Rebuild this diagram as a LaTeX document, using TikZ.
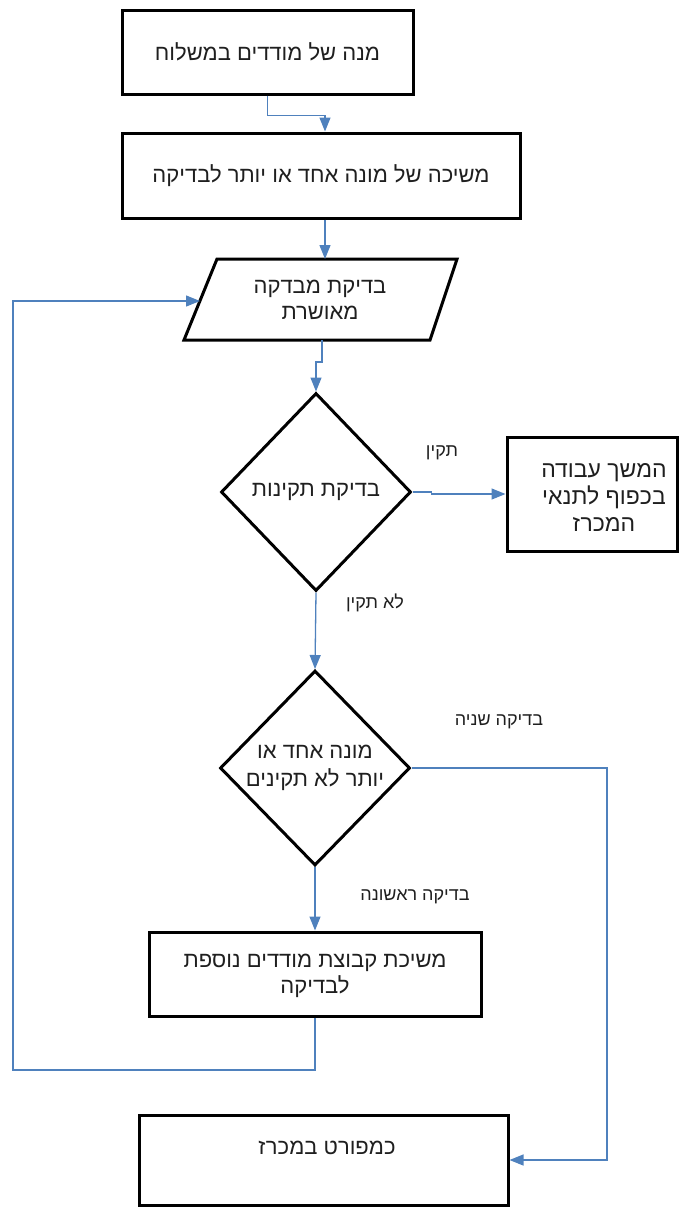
\documentclass[tikz,border=0pt]{standalone}
\usepackage{fontspec}
\usetikzlibrary{arrows.meta,shapes.geometric,calc}
\newfontfamily\hebfont[Script=Hebrew]{Liberation Sans}
\TeXXeTstate=1
\newcommand{\hb}[1]{\beginR #1\endR}
\definecolor{linkblue}{RGB}{79,129,189}
\begin{document}
\begin{tikzpicture}[x=1pt,y=-1pt,
  box/.style={draw=black,line width=3pt,rectangle,inner sep=0pt,align=center,
    font=\hebfont\fontsize{22}{27}\selectfont,text=black!88},
  dia/.style={draw=black,line width=3pt,diamond,inner sep=0pt,align=center,
    font=\hebfont\fontsize{22}{28}\selectfont,text=black!88},
  txt/.style={inner sep=0pt,align=center,font=\hebfont\fontsize{22}{26.5}\selectfont,text=black!88},
  conn/.style={draw=linkblue,line width=1.3pt,-{Triangle[length=14pt,width=11pt]}},
  lbl/.style={inner sep=0pt,font=\hebfont\fontsize{18}{20}\selectfont,text=black!88}]
\useasboundingbox (0,0) rectangle (679,1208);

% boxes
\node[box,minimum width=291,minimum height=84] (b1) at (267.5,52) {\hb{מנה של מודדים במשלוח}};
\node[box,minimum width=398,minimum height=85] (b2) at (321,175.5) {\hb{משיכה של מונה אחד או יותר לבדיקה}};

% parallelogram
\coordinate (ptl) at (217,259);
\coordinate (ptr) at (457,259);
\coordinate (pbr) at (430,340);
\coordinate (pbl) at (184,340);
\draw[line width=3pt,line join=miter] (ptl) -- (ptr) -- (pbr) -- (pbl) -- cycle;
\coordinate (ptop) at (325,259);
\coordinate (pbot) at (322,340);
\coordinate (pleft) at (200,301);
\node[txt] (pt) at (320,300) {\hb{בדיקת מבדקה}\\\hb{מאושרת}};

% diamonds
\node[dia,minimum width=190,minimum height=198] (d1) at (316,492) {\hb{בדיקת תקינות}};
\node[dia,minimum width=190,minimum height=195] (d2) at (315,768) {};
\node[txt,font=\hebfont\fontsize{22}{28}\selectfont] (d2t) at (315,768) {\hb{מונה אחד או}\\\hb{יותר לא תקינים}};

% side box
\node[box,minimum width=170,minimum height=114] (b3) at (592,494) {};
\node[txt,font=\hebfont\fontsize{23}{27}\selectfont] (b3t) at (604,497) {\hb{המשך עבודה}\\\hb{בכפוף לתנאי}\\\hb{המכרז}};

% lower boxes
\node[box,minimum width=332,minimum height=84] (b4) at (315,974) {};
\node[txt] (b4t) at (315,976) {\hb{משיכת קבוצת מודדים נוספת}\\\hb{לבדיקה}};
\node[box,minimum width=369,minimum height=90] (b5) at (323.5,1160) {};
\node[txt] (b5t) at (327,1148) {\hb{כמפורט במכרז}};

% labels
\node[lbl] (l1) at (442,453) {\hb{תקין}};
\node[lbl] (l2) at (375,603) {\hb{לא תקין}};
\node[lbl] (l3) at (499,722) {\hb{בדיקה שניה}};
\node[lbl] (l4) at (415,897) {\hb{בדיקה ראשונה}};

% connectors
\draw[conn] (b1.south) -- ++(0,20) -| ([xshift=4]b2.north);
\draw[conn] ([xshift=4]b2.south) -- (ptop);
\draw[conn] (pbot) -- ++(0,22) -| (d1.north);
\draw[conn] (d1.east) -- ++(19,0) |- (b3.west);
\draw[conn] (d1.south) -- (d2.north);
\coordinate (rr) at (607,768);
\draw[conn] (d2.east) -- (rr) |- (b5.east);
\draw[conn] (d2.south) -- (b4.north);
\coordinate (lb) at (13,1070);
\draw[conn] (b4.south) |- (lb) |- (pleft);
\end{tikzpicture}
\end{document}
